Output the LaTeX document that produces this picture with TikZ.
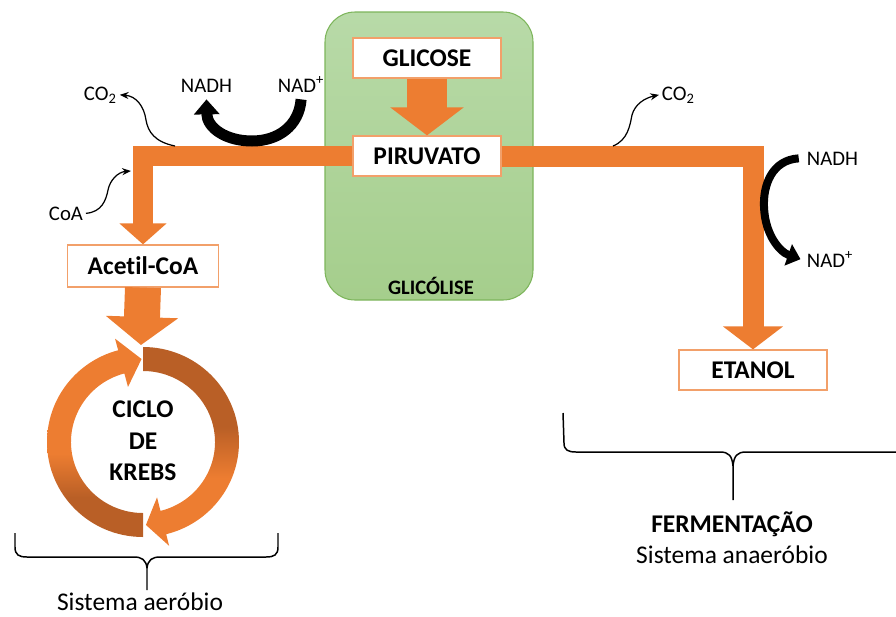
\documentclass[tikz,border=0pt]{standalone}
\usepackage{fontspec}
\setmainfont{Carlito}[Ligatures=NoCommon]
\usetikzlibrary{arrows.meta}

\definecolor{laranja}{HTML}{ED7D31}
\definecolor{laranjaesc}{HTML}{B95F26}
\definecolor{bordalar}{HTML}{F2A06A}
\definecolor{verdeclaro}{HTML}{A5CE8C}
\definecolor{verdetopo}{HTML}{B8DAA8}
\definecolor{verdeborda}{HTML}{7DB55B}

\pgfdeclareverticalshading{cicloesq}{100bp}{color(0bp)=(laranjaesc); color(35bp)=(laranjaesc); color(46bp)=(laranja); color(100bp)=(laranja)}
\pgfdeclareverticalshading{ciclodir}{100bp}{color(0bp)=(laranja); color(42bp)=(laranja); color(55bp)=(laranjaesc); color(100bp)=(laranjaesc)}

\tikzset{
  caixa/.style={draw=bordalar, line width=0.7pt, fill=white, minimum width=2.96cm,
    minimum height=0.8cm, inner sep=0pt, font=\fontsize{14.5}{17}\selectfont\bfseries},
  rotulo/.style={inner sep=1.5pt, font=\fontsize{11.8}{14}\selectfont},
  titulo/.style={inner sep=0pt, font=\fontsize{14.5}{17.9}\selectfont\bfseries},
  texto/.style={inner sep=0pt, font=\fontsize{14.5}{17}\selectfont},
  via/.style={draw=laranja, line width=0.4cm, line join=miter},
  setafina/.style={line width=0.7pt, -{Stealth[length=5pt,width=4pt]}},
  chave/.style={line width=0.85pt},
}

\begin{document}
\begin{tikzpicture}[x=0.02cm, y=-0.02cm]
\useasboundingbox (0,0) rectangle (896,616);

\draw[verdeborda, line width=0.6pt, rounded corners=0.6cm, top color=verdetopo, bottom color=verdeclaro] (325,12) rectangle (533,300);
\node[titulo, font=\fontsize{11.7}{14}\selectfont\bfseries, anchor=base] (glicolise) at (431,294) {GLICÓLISE};

\node[caixa] (glicose) at (427,58) {GLICOSE};
\node[caixa] (piruvato) at (427,156) {PIRUVATO};
\node[caixa, minimum width=3.02cm, minimum height=0.84cm] (acetil) at (143,266) {Acetil-CoA};
\node[caixa] (etanol) at (753,370) {ETANOL};
\node[titulo, align=center] (krebs) at (143,441) {CICLO\\DE\\KREBS};
\coordinate (topociclo) at (141,345);

\node[rotulo, anchor=base west] (co2a) at (81,100) {CO\textsubscript{2}};
\node[rotulo, anchor=base west] (nadha) at (178,92) {NADH};
\node[rotulo, anchor=base west] (nadpa) at (275,92) {NAD\textsuperscript{+}};
\node[rotulo, anchor=base west] (coa) at (46,220) {CoA};
\node[rotulo, anchor=base west] (co2b) at (659,100) {CO\textsubscript{2}};
\node[rotulo, anchor=base west] (nadhb) at (804,165) {NADH};
\node[rotulo, anchor=base west] (nadpb) at (804,267) {NAD\textsuperscript{+}};
\coordinate (saida1) at (175,146);
\coordinate (entra1) at (131,171);
\coordinate (saida2) at (613,146);

\draw[via, -{Triangle[width=0.92cm, length=0.42cm]}] (piruvato.west) -| (acetil.north);
\draw[via, line width=0.42cm, -{Triangle[width=1.18cm, length=0.46cm]}] (piruvato.east) -| (etanol.north);
\draw[via, line width=0.8cm, -{Triangle[width=1.44cm, length=0.56cm]}] (glicose.south) -- (piruvato.north);
\draw[via, line width=0.72cm, -{Triangle[width=1.42cm, length=0.56cm]}] (acetil.south) -- (topociclo);

\begin{scope}[shift={(143,442)}, yscale=-1]
\shade[shading=cicloesq] (270:96 and 95) arc[start angle=270, end angle=105, x radius=96, y radius=95] -- (105:108 and 107) -- (91:84 and 83) -- (105:58 and 57) -- (105:72 and 71) arc[start angle=105, end angle=270, x radius=72, y radius=71] -- cycle;
\shade[shading=ciclodir] (90:96 and 95) arc[start angle=90, end angle=-76, x radius=96, y radius=95] -- (-76:108 and 107) -- (-88:84 and 83) -- (-76:58 and 57) -- (-76:72 and 71) arc[start angle=-76, end angle=90, x radius=72, y radius=71] -- cycle;
\end{scope}

\draw[setafina] (saida1) .. controls (155,142) and (148,132) .. (146,120) .. controls (144,106) and (136,96) .. (co2a.east);
\draw[setafina] (coa.east) .. controls (102,212) and (106,200) .. (108,190) .. controls (110,180) and (118,172) .. (entra1);
\draw[setafina] (saida2) .. controls (628,140) and (630,125) .. (632,115) .. controls (635,104) and (645,98) .. (co2b.west);

\draw[line width=0.22cm, -{Triangle[width=0.5cm, length=0.3cm]}] ([yshift=-2.5pt]nadpa.south) .. controls (299,126) and (278,141) .. (252,141) .. controls (226,141) and (207,128) .. ([yshift=-2.5pt]nadha.south);
\draw[line width=0.16cm, -{Triangle[width=0.44cm, length=0.26cm]}] ([xshift=-3pt]nadhb.west) .. controls (772,160) and (763,185) .. (764,207) .. controls (765,235) and (780,252) .. ([xshift=-2pt]nadpb.west);

\draw[chave] (15,533) -- (15,547) .. controls (15,555) and (19,557) .. (27,557) -- (134,557) .. controls (142,557) and (146,560) .. (147,568) -- (147,590) (147,568) .. controls (148,560) and (152,557) .. (160,557) -- (266,557) .. controls (274,557) and (278,555) .. (278,547) -- (278,533);
\draw[chave] (563,413) -- (564,443) .. controls (564,450) and (568,452) .. (576,452) -- (720,452) .. controls (729,452) and (732,456) .. (733,466) -- (733,500) (733,466) .. controls (734,456) and (737,452) .. (746,452) -- (900,452);

\node[titulo, anchor=base] (ferment) at (732,532) {FERMENTAÇÃO};
\node[texto, anchor=base] (anaerobio) at (732,563) {Sistema anaeróbio};
\node[texto, anchor=base] (aerobio) at (140,610) {Sistema aeróbio};
\end{tikzpicture}
\end{document}
